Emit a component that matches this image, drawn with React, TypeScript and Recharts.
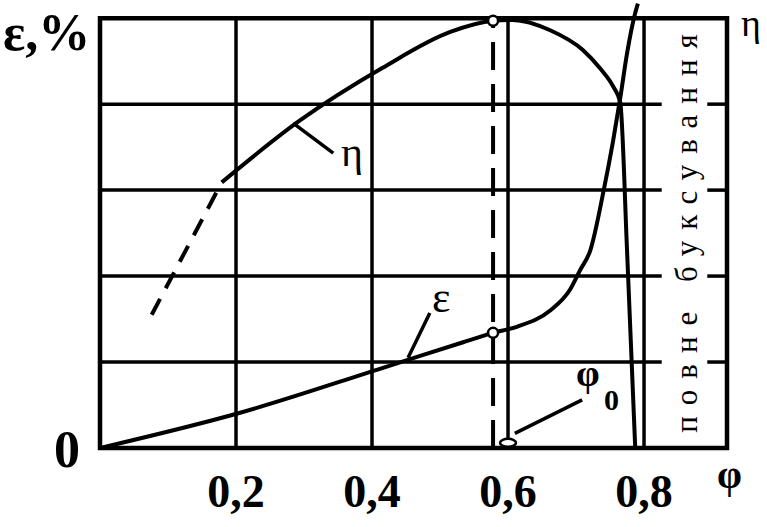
import React from "react";
import {
  ComposedChart,
  Line,
  XAxis,
  YAxis,
  ReferenceLine,
  ReferenceArea,
  ReferenceDot,
} from "recharts";

// φ (slip coefficient) axis and grid
const phiTicks = [0.2, 0.4, 0.6, 0.8];
const gridLevels = [1, 2, 3, 4];
const phi0 = 0.578;

// ε curve
const epsPhi = [0, 0.206, 0.415, 0.534, 0.578, 0.613, 0.662, 0.691, 0.706, 0.721, 0.74, 0.754, 0.765, 0.775, 0.787, 0.791];
const epsVal = [0, 0.41, 0.93, 1.23, 1.34, 1.41, 1.6, 1.84, 2.07, 2.3, 2.97, 3.55, 4.07, 4.59, 5.06, 5.17];

// η curve, solid part
const etaPhi = [0.179, 0.294, 0.415, 0.515, 0.578, 0.607, 0.662, 0.71, 0.735, 0.755, 0.765, 0.775, 0.787];
const etaVal = [3.09, 3.81, 4.42, 4.84, 4.97, 4.98, 4.86, 4.63, 4.42, 4.2, 4.02, 2.3, 0.01];

// η curve, dashed extrapolation
const etaDashPhi = [0.076, 0.179];
const etaDashVal = [1.55, 3.09];

const PHI_MAX = 0.922;
const TOP = 5;
const GRID_END = 0.826;
const RIGHT_TICK = 0.893;

const epsData = epsPhi.map((p, i) => ({ phi: p, v: epsVal[i] }));
const etaData = etaPhi.map((p, i) => ({ phi: p, v: etaVal[i] }));
const etaDashData = etaDashPhi.map((p, i) => ({ phi: p, v: etaDashVal[i] }));

const serif = "'Liberation Serif', 'Times New Roman', serif";

const XTick = ({ x, y, payload }: any) => (
  <text x={x} y={y} dy={59} textAnchor="middle" fontFamily={serif} fontWeight="bold" fontSize={46} fill="#000">
    {String(payload.value).replace(".", ",")}
  </text>
);

const YTick = ({ x, y, payload }: any) => (
  <text x={x} y={y} dx={-20} dy={19} textAnchor="end" fontFamily={serif} fontWeight="bold" fontSize={52} fill="#000">
    {payload.value}
  </text>
);

const Ellipse = ({ cx, cy }: any) => (
  <ellipse cx={cx} cy={cy} rx={8} ry={4} fill="#fff" stroke="#000" strokeWidth={2.5} />
);

export default function App() {
  return (
    <div style={{ position: "absolute", left: 0, top: 0, width: 767, height: 527, background: "#fff" }}>
      <ComposedChart width={767} height={527} margin={{ top: 1, right: 40, bottom: 0, left: 0 }}>
        <XAxis
          type="number"
          dataKey="phi"
          domain={[0, PHI_MAX]}
          ticks={phiTicks}
          allowDataOverflow
          axisLine={false}
          tickLine={false}
          tickSize={0}
          tickMargin={0}
          height={79}
          tick={<XTick />}
        />
        <YAxis
          type="number"
          dataKey="v"
          domain={[0, 5.2]}
          ticks={[0]}
          allowDataOverflow
          axisLine={false}
          tickLine={false}
          tickSize={0}
          tickMargin={0}
          width={100}
          tick={<YTick />}
        />

        {gridLevels.map((g) => (
          <ReferenceLine key={`h${g}`} segment={[{ x: 0, y: g }, { x: GRID_END, y: g }]} stroke="#000" strokeWidth={3.5} />
        ))}
        {gridLevels.map((g) => (
          <ReferenceLine key={`t${g}`} segment={[{ x: RIGHT_TICK, y: g }, { x: PHI_MAX, y: g }]} stroke="#000" strokeWidth={3.5} />
        ))}
        {phiTicks.map((t) => (
          <ReferenceLine key={`v${t}`} segment={[{ x: t, y: 0 }, { x: t, y: TOP }]} stroke="#000" strokeWidth={3.5} />
        ))}
        <ReferenceArea x1={0} x2={PHI_MAX} y1={0} y2={TOP} fill="none" fillOpacity={0} stroke="#000" strokeWidth={4.5} />

        <ReferenceLine
          segment={[{ x: phi0, y: 0 }, { x: phi0, y: 4.97 }]}
          stroke="#000"
          strokeWidth={4}
          strokeDasharray="28 14"
        />

        {/* leader lines for annotations */}
        <ReferenceLine segment={[{ x: 0.284, y: 3.78 }, { x: 0.343, y: 3.43 }]} stroke="#000" strokeWidth={3.5} />
        <ReferenceLine segment={[{ x: 0.453, y: 1.05 }, { x: 0.485, y: 1.57 }]} stroke="#000" strokeWidth={3.5} />
        <ReferenceLine segment={[{ x: 0.61, y: 0.17 }, { x: 0.709, y: 0.56 }]} stroke="#000" strokeWidth={3.5} />

        <Line data={etaDashData} dataKey="v" type="linear" stroke="#000" strokeWidth={4} strokeDasharray="18 12" dot={false} isAnimationActive={false} />
        <Line data={etaData} dataKey="v" type="monotone" stroke="#000" strokeWidth={4} dot={false} isAnimationActive={false} />
        <Line data={epsData} dataKey="v" type="monotone" stroke="#000" strokeWidth={4} dot={false} isAnimationActive={false} />

        <ReferenceDot x={phi0} y={4.97} r={5} fill="#fff" stroke="#000" strokeWidth={2.5} />
        <ReferenceDot x={phi0} y={1.34} r={5} fill="#fff" stroke="#000" strokeWidth={2.5} />
        <ReferenceDot x={0.6} y={0.06} r={5} shape={<Ellipse />} />
      </ComposedChart>

      <svg width={767} height={527} style={{ position: "absolute", left: 0, top: 0, pointerEvents: "none" }}>
        <text x={3} y={50} fontFamily={serif} fontWeight="bold" fontSize={52}>ε,%</text>
        <text x={741} y={36} fontFamily={serif} fontSize={38}>η</text>
        <text x={717} y={488} fontFamily={serif} fontWeight="bold" fontSize={40}>φ</text>
        <text x={341} y={166} fontFamily={serif} fontSize={42}>η</text>
        <text x={432} y={312} fontFamily={serif} fontSize={44}>ε</text>
        <text x={576} y={386} fontFamily={serif} fontWeight="bold" fontSize={38}>φ</text>
        <text x={604} y={410} fontFamily={serif} fontWeight="bold" fontSize={30}>0</text>
        <text
          transform="translate(686 228) rotate(-90)"
          textAnchor="middle"
          dominantBaseline="central"
          fontFamily={serif}
          fontSize={31}
          letterSpacing={11}
        >
          повне буксування
        </text>
      </svg>
    </div>
  );
}
